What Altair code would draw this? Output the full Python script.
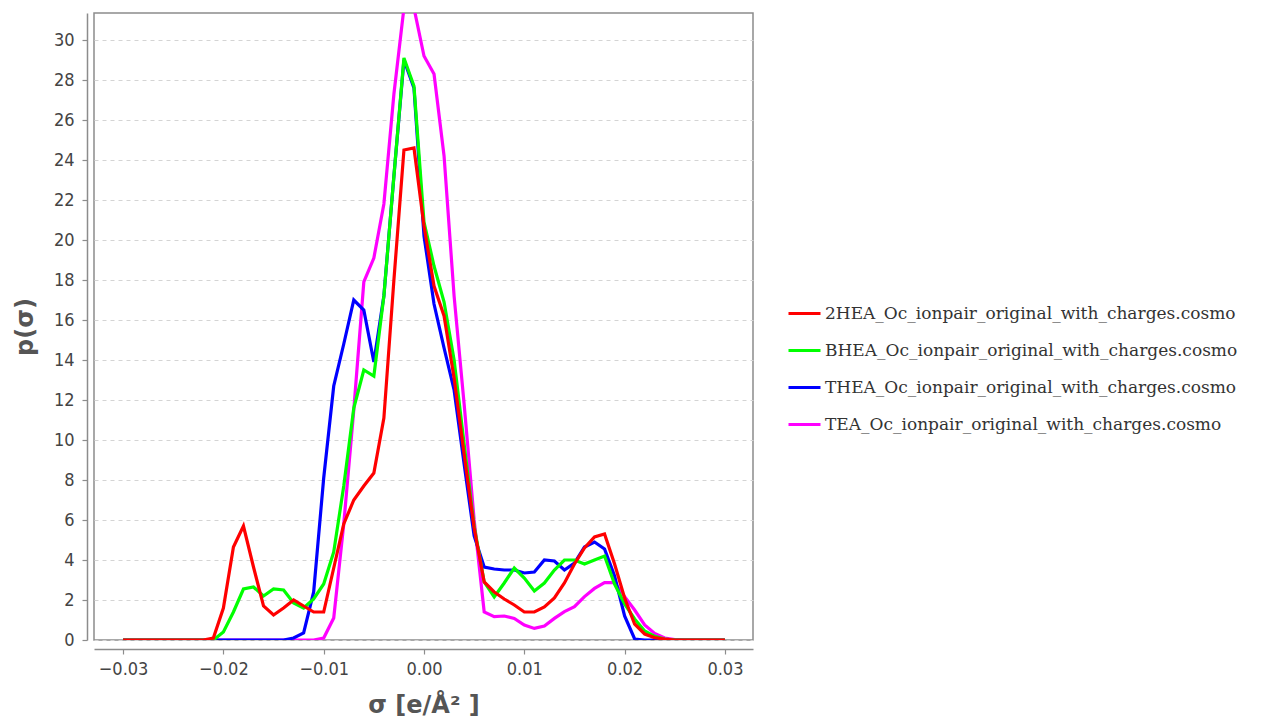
import altair as alt
import pandas as pd

sigma = [-0.030, -0.029, -0.028, -0.027, -0.026, -0.025, -0.024, -0.023, -0.022, -0.021,
         -0.020, -0.019, -0.018, -0.017, -0.016, -0.015, -0.014, -0.013, -0.012, -0.011,
         -0.010, -0.009, -0.008, -0.007, -0.006, -0.005, -0.004, -0.003, -0.002, -0.001,
         0.000, 0.001, 0.002, 0.003, 0.004, 0.005, 0.006, 0.007, 0.008, 0.009,
         0.010, 0.011, 0.012, 0.013, 0.014, 0.015, 0.016, 0.017, 0.018, 0.019,
         0.020, 0.021, 0.022, 0.023, 0.024, 0.025, 0.026, 0.027, 0.028, 0.029, 0.030]

p_2hea = [0, 0, 0, 0, 0, 0, 0, 0, 0, 0.1,
          1.6, 4.65, 5.7, 3.65, 1.7, 1.25, 1.6, 2.0, 1.7, 1.4,
          1.4, 3.6, 5.8, 7.0, 7.7, 8.35, 11.1, 18.0, 24.5, 24.6,
          20.7, 17.7, 16.2, 13.1, 9.3, 5.6, 2.9, 2.4, 2.05, 1.75,
          1.4, 1.4, 1.65, 2.1, 2.85, 3.8, 4.6, 5.15, 5.3, 3.8,
          2.1, 0.8, 0.3, 0.12, 0.04, 0, 0, 0, 0, 0, 0]

p_bhea = [0, 0, 0, 0, 0, 0, 0, 0, 0, 0,
          0.4, 1.4, 2.55, 2.65, 2.2, 2.55, 2.5, 1.85, 1.6, 2.05,
          2.8, 4.4, 7.7, 11.6, 13.5, 13.2, 17.2, 23.2, 29.1, 27.7,
          20.9, 18.7, 16.9, 14.0, 9.8, 5.7, 2.9, 2.15, 2.85, 3.6,
          3.1, 2.45, 2.85, 3.5, 4.0, 4.0, 3.8, 4.0, 4.2, 2.8,
          1.8, 1.05, 0.45, 0.18, 0.05, 0, 0, 0, 0, 0, 0]

p_thea = [0, 0, 0, 0, 0, 0, 0, 0, 0, 0,
          0, 0, 0, 0, 0, 0, 0, 0.1, 0.35, 2.4,
          8.1, 12.7, 14.8, 17.0, 16.5, 13.9, 17.2, 23.2, 29.0, 27.6,
          20.2, 16.8, 14.6, 12.5, 8.8, 5.2, 3.65, 3.55, 3.5, 3.5,
          3.35, 3.4, 4.0, 3.95, 3.5, 3.85, 4.65, 4.9, 4.55, 3.2,
          1.2, 0.05, 0, 0, 0, 0, 0, 0, 0, 0, 0]

p_tea = [0, 0, 0, 0, 0, 0, 0, 0, 0, 0,
         0, 0, 0, 0, 0, 0, 0, 0, 0, 0,
         0.1, 1.1, 5.8, 11.5, 17.9, 19.1, 21.8, 27.3, 31.6, 31.6,
         29.2, 28.3, 24.2, 17.2, 11.8, 6.0, 1.4, 1.17, 1.2, 1.08,
         0.75, 0.58, 0.7, 1.08, 1.42, 1.67, 2.17, 2.58, 2.87, 2.87,
         2.17, 1.5, 0.75, 0.33, 0.1, 0.02, 0, 0, 0, 0, 0]

series_names = ["2HEA_Oc_ionpair_original_with_charges.cosmo",
                "BHEA_Oc_ionpair_original_with_charges.cosmo",
                "THEA_Oc_ionpair_original_with_charges.cosmo",
                "TEA_Oc_ionpair_original_with_charges.cosmo"]
series_colors = ["#ff0000", "#00ff00", "#0000ff", "#ff00ff"]
series_values = [p_2hea, p_bhea, p_thea, p_tea]

y_ticks = [0, 2, 4, 6, 8, 10, 12, 14, 16, 18, 20, 22, 24, 26, 28, 30]
x_ticks = [-0.03, -0.02, -0.01, 0.0, 0.01, 0.02, 0.03]

rows = []
for name, vals in zip(series_names, series_values):
    for s, v in zip(sigma, vals):
        rows.append({"sigma": s, "p": v, "series": name})
df = pd.DataFrame(rows)

xscale = alt.Scale(domain=[-0.0329, 0.0328], nice=False, zero=False)
yscale = alt.Scale(domain=[0, 31.35], nice=False)
cscale = alt.Scale(domain=series_names, range=series_colors)

lab_font = "DejaVu Sans Condensed, DejaVu Sans"

def layer(name):
    return alt.Chart(df).transform_filter(alt.datum.series == name).mark_line(
        strokeWidth=3.2, clip=True
    ).encode(
        x=alt.X("sigma:Q", scale=xscale,
                axis=alt.Axis(values=x_ticks, format=".2f", title="σ [e/Å² ]",
                              offset=9, grid=False, tickSize=5, labelPadding=6,
                              titlePadding=15)),
        y=alt.Y("p:Q", scale=yscale,
                axis=alt.Axis(values=y_ticks, title="p(σ)", offset=7, tickSize=5,
                              labelPadding=8, titlePadding=16,
                              grid=True, gridDash=[4, 4], gridColor="#d4d4d4",
                              gridWidth=1)),
        color=alt.Color("series:N", scale=cscale,
                        legend=alt.Legend(title=None, orient="none", legendX=693,
                                          legendY=283, symbolType="stroke",
                                          symbolSize=1024, symbolStrokeWidth=3,
                                          labelFont="DejaVu Serif", labelFontSize=17,
                                          labelColor="#333", labelLimit=600,
                                          rowPadding=11, labelOffset=3, padding=0)),
        order=alt.Order("sigma:Q"),
    )

chart = alt.layer(*[layer(n) for n in reversed(series_names)]).properties(
    width=659, height=627,
    autosize=alt.AutoSizeParams(type="none"),
    padding={"left": 86, "top": 5, "right": 509, "bottom": 82},
).configure_view(
    stroke="#8c8c8c", strokeWidth=1.5
).configure_axis(
    domainColor="#8c8c8c", domainWidth=1.5, tickColor="#8c8c8c", tickWidth=1.2,
    labelFont=lab_font, labelFontSize=18, labelColor="#444",
    titleFont="DejaVu Sans", titleFontSize=24, titleFontWeight="bold", titleColor="#555",
)

chart.save("out.html", embed_options={"renderer": "svg", "actions": False})
